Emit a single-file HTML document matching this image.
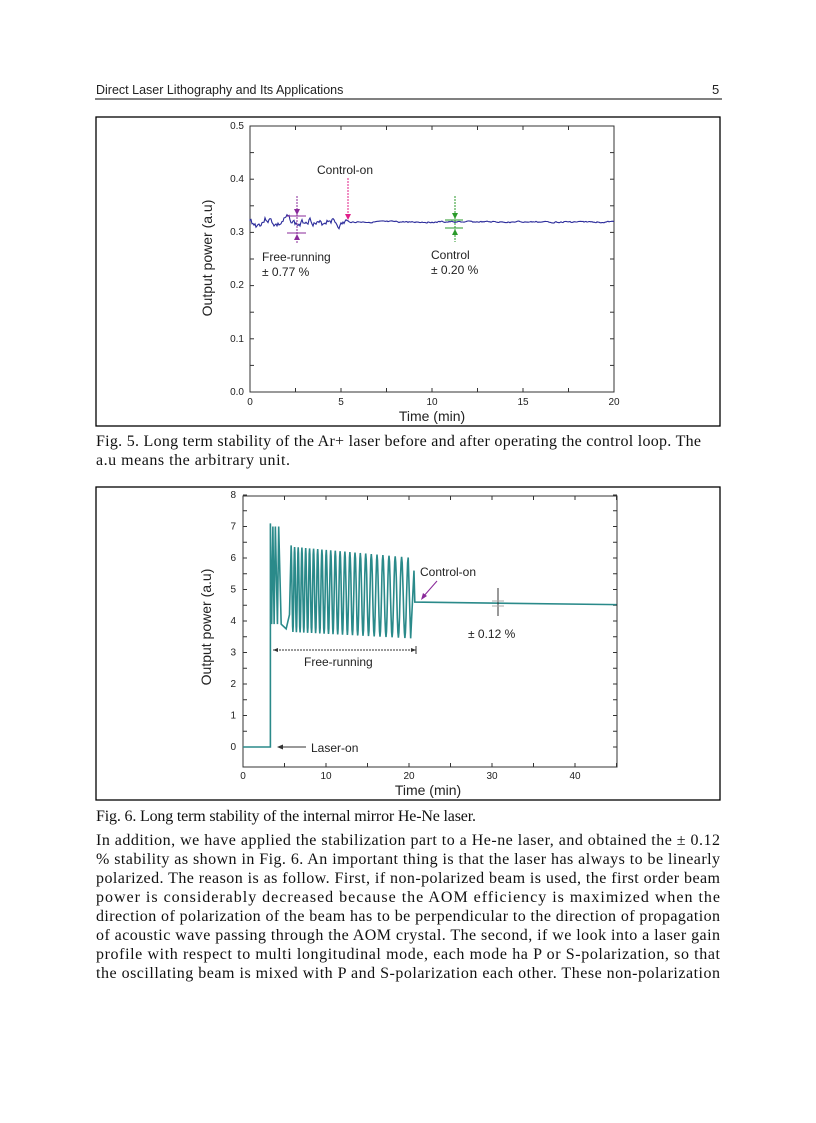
<!DOCTYPE html>
<html><head><meta charset="utf-8"><style>
body{margin:0;background:#fff;width:816px;height:1123px;overflow:hidden}
svg{display:block}
.s{font-family:"Liberation Sans",sans-serif;fill:#222}
.t{font-family:"Liberation Serif",serif;font-size:16px;fill:#111}
</style></head><body>
<svg width="816" height="1123" viewBox="0 0 816 1123">
<text class="s" x="96" y="94" font-size="12.5">Direct Laser Lithography and Its Applications</text>
<text class="s" x="712" y="94" font-size="13">5</text>
<line x1="95" y1="99" x2="722" y2="99" stroke="#000" stroke-width="1"/>

<!-- Fig 5 -->
<rect x="96" y="117" width="624" height="309" fill="none" stroke="#000" stroke-width="1.3"/>
<rect x="250" y="126" width="364" height="266" fill="none" stroke="#333" stroke-width="1"/>
<g id="t5" stroke="#333" stroke-width="1"></g>
<g class="s" font-size="10" text-anchor="end">
<text x="244" y="129">0.5</text><text x="244" y="182">0.4</text><text x="244" y="235">0.3</text>
<text x="244" y="288">0.2</text><text x="244" y="342">0.1</text><text x="244" y="395">0.0</text>
</g>
<g class="s" font-size="10" text-anchor="middle">
<text x="250" y="405">0</text><text x="341" y="405">5</text><text x="432" y="405">10</text><text x="523" y="405">15</text><text x="614" y="405">20</text>
</g>
<text class="s" x="432" y="421" font-size="14" text-anchor="middle">Time (min)</text>
<text class="s" x="0" y="0" font-size="14" text-anchor="middle" transform="translate(212,258) rotate(-90)">Output power (a.u)</text>
<path id="p5" fill="none" stroke="#2a2a9a" stroke-width="1.1"/>
<text class="s" x="317" y="174" font-size="12">Control-on</text>
<line x1="348" y1="178" x2="348" y2="218" stroke="#e0208a" stroke-dasharray="2,1"/>
<path d="M345,214 L348,220 L351,214Z" fill="#e0208a"/>
<line x1="297" y1="196" x2="297" y2="244" stroke="#8a2a9a" stroke-dasharray="2,1"/>
<line x1="287" y1="216" x2="306" y2="216" stroke="#8a2a9a"/><line x1="287" y1="233" x2="306" y2="233" stroke="#8a2a9a"/>
<path d="M294,209 L297,215 L300,209Z M294,240 L297,234 L300,240Z" fill="#8a2a9a"/>
<text class="s" x="262" y="261" font-size="12">Free-running</text>
<text class="s" x="262" y="276" font-size="12">± 0.77 %</text>
<line x1="455" y1="196" x2="455" y2="242" stroke="#2a9a2a" stroke-dasharray="2,1"/>
<line x1="445" y1="220" x2="463" y2="220" stroke="#2a9a2a"/><line x1="445" y1="228" x2="463" y2="228" stroke="#2a9a2a"/>
<path d="M452,213 L455,219 L458,213Z M452,235 L455,229 L458,235Z" fill="#2a9a2a"/>
<text class="s" x="431" y="259" font-size="12">Control</text>
<text class="s" x="431" y="274" font-size="12">± 0.20 %</text>

<text class="t" x="96" y="446" textLength="605" lengthAdjust="spacing">Fig. 5. Long term stability of the Ar+ laser before and after operating the control loop. The</text>
<text class="t" x="96" y="465" textLength="194" lengthAdjust="spacing">a.u  means the arbitrary unit.</text>

<!-- Fig 6 -->
<rect x="96" y="487" width="624" height="313" fill="none" stroke="#000" stroke-width="1.3"/>
<rect x="243" y="496" width="374" height="271" fill="none" stroke="#333" stroke-width="1"/>
<g id="t6" stroke="#333" stroke-width="1"></g>
<g class="s" font-size="10" text-anchor="end" id="yl6"></g>
<g class="s" font-size="10" text-anchor="middle">
<text x="243" y="779">0</text><text x="326" y="779">10</text><text x="409" y="779">20</text><text x="492" y="779">30</text><text x="575" y="779">40</text>
</g>
<text class="s" x="428" y="795" font-size="14" text-anchor="middle">Time (min)</text>
<text class="s" x="0" y="0" font-size="14" text-anchor="middle" transform="translate(211,627) rotate(-90)">Output power (a.u)</text>
<path id="p6" fill="none" stroke="#2a8a8a" stroke-width="1.6"/>
<text class="s" x="420" y="576" font-size="12">Control-on</text>
<line x1="437" y1="581" x2="423" y2="597" stroke="#8a2a9a"/><path d="M421,600 L423,593 L427,596Z" fill="#8a2a9a"/>
<line x1="498" y1="588" x2="498" y2="616" stroke="#333"/>
<line x1="492" y1="601" x2="504" y2="601" stroke="#aaa"/><line x1="492" y1="606" x2="504" y2="606" stroke="#aaa"/>
<text class="s" x="468" y="638" font-size="12">± 0.12 %</text>
<line x1="273" y1="650" x2="416" y2="650" stroke="#333" stroke-dasharray="2,1"/>
<path d="M273,650 l5,-2 v4Z M416,650 l-5,-2 v4Z" fill="#333"/><line x1="416" y1="646" x2="416" y2="654" stroke="#333"/>
<text class="s" x="304" y="666" font-size="12">Free-running</text>
<line x1="280" y1="747" x2="306" y2="747" stroke="#333"/><path d="M277,747 l6,-2.5 v5Z" fill="#333"/>
<text class="s" x="311" y="752" font-size="12">Laser-on</text>

<text class="t" x="96" y="821" textLength="380" lengthAdjust="spacing">Fig. 6. Long term stability of the internal mirror He-Ne laser.</text>
<g class="t">
<text x="96" y="845" textLength="624" lengthAdjust="spacing">In addition, we have applied the stabilization part to a He-ne laser, and obtained the ± 0.12</text>
<text x="96" y="864" textLength="624" lengthAdjust="spacing">% stability as shown in Fig. 6. An important thing is that the laser has always to be linearly</text>
<text x="96" y="883" textLength="624" lengthAdjust="spacing">polarized. The reason is as follow. First, if non-polarized beam is used, the first order beam</text>
<text x="96" y="902" textLength="624" lengthAdjust="spacing">power is considerably decreased because the AOM efficiency is maximized when the</text>
<text x="96" y="921" textLength="624" lengthAdjust="spacing">direction of polarization of the beam has to be perpendicular to the direction of propagation</text>
<text x="96" y="940" textLength="624" lengthAdjust="spacing">of acoustic wave passing through the AOM crystal. The second, if we look into a laser gain</text>
<text x="96" y="959" textLength="624" lengthAdjust="spacing">profile with respect to multi longitudinal mode, each mode ha P or S-polarization, so that</text>
<text x="96" y="978" textLength="624" lengthAdjust="spacing">the oscillating beam is mixed with P and S-polarization each other. These non-polarization</text>
</g>
</svg>
<script>
function ticks(id,x0,x1,y0,y1,xs,ys){var g=document.getElementById(id),s='';
xs.forEach(function(x){s+='<line x1="'+x+'" y1="'+y1+'" x2="'+x+'" y2="'+(y1-4)+'"/><line x1="'+x+'" y1="'+y0+'" x2="'+x+'" y2="'+(y0+4)+'"/>';});
ys.forEach(function(y){s+='<line x1="'+x0+'" y1="'+y+'" x2="'+(x0+4)+'" y2="'+y+'"/><line x1="'+x1+'" y1="'+y+'" x2="'+(x1-4)+'" y2="'+y+'"/>';});
g.innerHTML=s;}
var xs=[],ys=[];for(var i=0;i<=8;i++)xs.push(250+i*45.5);for(i=0;i<=10;i++)ys.push(126+i*26.6);
ticks('t5',250,614,126,392,xs,ys);
xs=[];ys=[];for(i=0;i<=9;i++)xs.push(243+i*41.5);for(i=0;i<=16;i++)ys.push(495+i*15.75);
ticks('t6',243,617,496,767,xs,ys);
var yl='';for(i=0;i<=8;i++)yl+='<text x="236" y="'+(750-i*31.5)+'">'+i+'</text>';document.getElementById('yl6').innerHTML=yl;
var seed=3;function r(){seed=(seed*9301+49297)%233280;return seed/233280-0.5;}
var d='M250,221',v=0;
for(var x=250;x<=614;x+=1){var t=(x-250)/18.2;var amp=t<5.3?1:0.2;v=v*0.6+r()*6*amp;var base=t<5.3?222+3*Math.sin(x*0.3):222;d+=' L'+x+','+(base+v).toFixed(1);}
document.getElementById('p5').setAttribute('d',d);
function Y(p){return 747-p*31.5;}function X(t){return 243+t*8.3;}
d='M243,'+Y(0)+' L'+X(3.3)+','+Y(0)+' L'+X(3.3)+','+Y(7.1);
var pk=[3.6,3.9,4.3];pk.forEach(function(p){d+=' L'+X(p-0.15)+','+Y(3.9)+' L'+X(p)+','+Y(7.0);});
d+=' L'+X(4.6)+','+Y(3.9)+' L'+X(5.2)+','+Y(3.75)+' L'+X(5.6)+','+Y(4.2)+' L'+X(5.8)+','+Y(6.4);
var t=5.8,per=0.42;
while(t<19.5){var lo=3.65-0.2*(t-5.8)/14,hi=6.35-0.35*(t-5.8)/14;
for(var k=1;k<=12;k++){var ph=k/12;var val=lo+(hi-lo)*(0.5+0.5*Math.cos(2*Math.PI*ph));d+=' L'+X(t+per*ph).toFixed(1)+','+Y(val).toFixed(1);}
t+=per;per*=1.028;}
d+=' L'+X(20.2)+','+Y(3.45)+' L'+X(20.6)+','+Y(5.6)+' L'+X(20.7)+','+Y(4.6)+' L'+X(45)+','+Y(4.52);
document.getElementById('p6').setAttribute('d',d);
</script>
</body></html>
